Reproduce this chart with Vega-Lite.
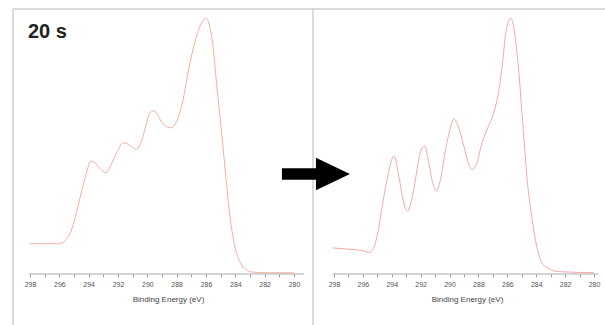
{
  "$schema": "https://vega.github.io/schema/vega-lite/v6.json",
  "background": "white",
  "padding": {"left": 12, "top": 8, "right": 0, "bottom": 0},
  "spacing": 0,
  "bounds": "flush",
  "datasets": {
    "one": [{"item": 1}],
    "left": [
      {"eV": 298.0, "counts": 11.6}, {"eV": 297.0, "counts": 11.6}, {"eV": 296.2, "counts": 11.6},
      {"eV": 295.9, "counts": 11.8}, {"eV": 295.5, "counts": 13.5}, {"eV": 295.2, "counts": 16.5},
      {"eV": 294.9, "counts": 22}, {"eV": 294.64, "counts": 28}, {"eV": 294.4, "counts": 33.5},
      {"eV": 294.18, "counts": 38.3}, {"eV": 293.84, "counts": 43.3}, {"eV": 293.55, "counts": 42.5},
      {"eV": 293.27, "counts": 40.7}, {"eV": 292.82, "counts": 38.8}, {"eV": 292.5, "counts": 41.5},
      {"eV": 292.25, "counts": 44.6}, {"eV": 291.95, "counts": 48}, {"eV": 291.68, "counts": 50.3},
      {"eV": 291.35, "counts": 49.8}, {"eV": 291.0, "counts": 48.5}, {"eV": 290.77, "counts": 47.8},
      {"eV": 290.5, "counts": 49.5}, {"eV": 290.32, "counts": 52.2}, {"eV": 290.1, "counts": 57},
      {"eV": 289.87, "counts": 61.2}, {"eV": 289.6, "counts": 62.5}, {"eV": 289.35, "counts": 61.5},
      {"eV": 289.07, "counts": 58.6}, {"eV": 288.7, "counts": 56.5}, {"eV": 288.39, "counts": 56},
      {"eV": 288.15, "counts": 57}, {"eV": 287.93, "counts": 59.5}, {"eV": 287.59, "counts": 66},
      {"eV": 287.25, "counts": 76.5}, {"eV": 286.8, "counts": 88}, {"eV": 286.34, "counts": 95.7},
      {"eV": 286.0, "counts": 98}, {"eV": 285.75, "counts": 95}, {"eV": 285.54, "counts": 88},
      {"eV": 285.32, "counts": 75.2}, {"eV": 285.09, "counts": 62.5}, {"eV": 284.86, "counts": 49.8},
      {"eV": 284.64, "counts": 36.8}, {"eV": 284.41, "counts": 24.1}, {"eV": 284.07, "counts": 11.5},
      {"eV": 283.61, "counts": 3.8}, {"eV": 283.3, "counts": 1.8}, {"eV": 282.93, "counts": 0.8},
      {"eV": 282.0, "counts": 0.5}, {"eV": 281.0, "counts": 0.5}, {"eV": 280.0, "counts": 0.4}
    ],
    "right": [
      {"eV": 298.1, "counts": 10}, {"eV": 297.0, "counts": 9.5}, {"eV": 296.0, "counts": 9},
      {"eV": 295.6, "counts": 8.2}, {"eV": 295.3, "counts": 9.5}, {"eV": 295.0, "counts": 15},
      {"eV": 294.6, "counts": 28}, {"eV": 294.3, "counts": 37}, {"eV": 293.85, "counts": 45.2},
      {"eV": 293.5, "counts": 37}, {"eV": 293.2, "counts": 28}, {"eV": 292.9, "counts": 24},
      {"eV": 292.6, "counts": 29}, {"eV": 292.3, "counts": 38.3}, {"eV": 292.0, "counts": 47},
      {"eV": 291.72, "counts": 49}, {"eV": 291.5, "counts": 44.4}, {"eV": 291.2, "counts": 35.6},
      {"eV": 290.9, "counts": 31.8}, {"eV": 290.6, "counts": 37}, {"eV": 290.3, "counts": 47},
      {"eV": 290.0, "counts": 54.8}, {"eV": 289.7, "counts": 59.4}, {"eV": 289.4, "counts": 56.7},
      {"eV": 289.1, "counts": 51}, {"eV": 288.8, "counts": 44.4}, {"eV": 288.45, "counts": 40},
      {"eV": 288.1, "counts": 42.5}, {"eV": 287.82, "counts": 49}, {"eV": 287.36, "counts": 56},
      {"eV": 286.9, "counts": 62.5}, {"eV": 286.56, "counts": 71.4}, {"eV": 286.32, "counts": 81.6},
      {"eV": 286.09, "counts": 93}, {"eV": 285.75, "counts": 98}, {"eV": 285.4, "counts": 88},
      {"eV": 285.17, "counts": 75.2}, {"eV": 285.0, "counts": 62.5}, {"eV": 284.82, "counts": 49.8},
      {"eV": 284.64, "counts": 36.8}, {"eV": 284.36, "counts": 24.1}, {"eV": 284.0, "counts": 11.5},
      {"eV": 283.55, "counts": 3.8}, {"eV": 283.0, "counts": 1.8}, {"eV": 282.75, "counts": 1.1},
      {"eV": 282.0, "counts": 0.8}, {"eV": 281.0, "counts": 0.6}, {"eV": 280.0, "counts": 0.5}
    ]
  },
  "hconcat": [
    {
      "width": 300,
      "height": 317,
      "encoding": {
        "x": {"type": "quantitative", "scale": {"domain": [278.705, 299.159], "reverse": true, "nice": false, "zero": false},
          "axis": {"title": "Binding Energy (eV)", "orient": "bottom", "offset": -52, "values": [280, 281, 282, 283, 284, 285, 286, 287, 288, 289, 290, 291, 292, 293, 294, 295, 296, 297, 298],
            "labelExpr": "datum.value % 2 === 0 ? datum.label : ''", "domain": false, "grid": false, "tickSize": 3, "tickColor": "#999999",
            "labelFontSize": 7, "labelColor": "#555555", "labelPadding": 3, "labelFlush": false, "labelOverlap": false,
            "titleFontSize": 8, "titleFontWeight": "normal", "titleColor": "#444444", "titlePadding": 8, "titleX": 155}},
        "y": {"type": "quantitative", "scale": {"domain": [-19.92, 101.53], "nice": false, "zero": false}, "axis": null}
      },
      "layer": [
        {
          "data": {"name": "left"},
          "mark": {"type": "line", "color": "#f4b09a", "strokeWidth": 1, "interpolate": "monotone"},
          "encoding": {"x": {"field": "eV"}, "y": {"field": "counts"}}
        },
        {
          "data": {"name": "one"},
          "mark": {"type": "rule", "color": "#cfcfcf", "strokeWidth": 1.5},
          "encoding": {"x": {"datum": 299.159}, "y": {"datum": -19.92}, "y2": {"datum": 101.53}}
        },
        {
          "data": {"name": "one"},
          "mark": {"type": "rule", "color": "#cfcfcf", "strokeWidth": 1.5},
          "encoding": {"x": {"datum": 278.705}, "y": {"datum": -19.92}, "y2": {"datum": 101.53}}
        },
        {
          "data": {"name": "one"},
          "mark": {"type": "rule", "color": "#cfcfcf", "strokeWidth": 1.5},
          "encoding": {"x": {"datum": 299.159}, "x2": {"datum": 278.705}, "y": {"datum": 101.53}}
        },
        {
          "data": {"name": "one"},
          "mark": {"type": "rule", "color": "#aaaaaa", "strokeWidth": 1},
          "encoding": {"x": {"datum": 298.07}, "x2": {"datum": 279.3}, "y": {"datum": 0}}
        },
        {
          "data": {"name": "one"},
          "mark": {"type": "text", "text": "20 s", "align": "left", "baseline": "alphabetic", "fontSize": 20, "fontWeight": "bold", "color": "#222222"},
          "encoding": {"x": {"datum": 298.14}, "y": {"datum": 90.4}}
        }
      ]
    },
    {
      "width": 293,
      "height": 317,
      "encoding": {
        "x": {"type": "quantitative", "scale": {"domain": [279.17, 299.454], "reverse": true, "nice": false, "zero": false},
          "axis": {"title": "Binding Energy (eV)", "orient": "bottom", "offset": -52, "values": [280, 281, 282, 283, 284, 285, 286, 287, 288, 289, 290, 291, 292, 293, 294, 295, 296, 297, 298],
            "labelExpr": "datum.value % 2 === 0 ? datum.label : ''", "domain": false, "grid": false, "tickSize": 3, "tickColor": "#999999",
            "labelFontSize": 7, "labelColor": "#555555", "labelPadding": 3, "labelFlush": false, "labelOverlap": false,
            "titleFontSize": 8, "titleFontWeight": "normal", "titleColor": "#444444", "titlePadding": 8, "titleX": 154}},
        "y": {"type": "quantitative", "scale": {"domain": [-19.92, 101.53], "nice": false, "zero": false}, "axis": null}
      },
      "layer": [
        {
          "data": {"name": "right"},
          "mark": {"type": "line", "color": "#f2aaa6", "strokeWidth": 1, "interpolate": "monotone"},
          "encoding": {"x": {"field": "eV"}, "y": {"field": "counts"}}
        },
        {
          "data": {"name": "one"},
          "mark": {"type": "rule", "color": "#cfcfcf", "strokeWidth": 1.5},
          "encoding": {"x": {"datum": 299.454}, "x2": {"datum": 279.17}, "y": {"datum": 101.53}}
        },
        {
          "data": {"name": "one"},
          "mark": {"type": "rule", "color": "#aaaaaa", "strokeWidth": 1},
          "encoding": {"x": {"datum": 298.1}, "x2": {"datum": 279.7}, "y": {"datum": 0}}
        },
        {
          "data": {"name": "one"},
          "mark": {"type": "point", "shape": "M-1,-0.17L0,-0.17L0,-0.48L1,0L0,0.48L0,0.17L-1,0.17Z", "size": 4624, "filled": true, "color": "#000000", "opacity": 1, "strokeWidth": 0},
          "encoding": {"x": {"datum": 299.25}, "y": {"datum": 38.3}}
        }
      ]
    }
  ],
  "config": {
    "view": {"stroke": null},
    "font": "Liberation Sans"
  }
}
